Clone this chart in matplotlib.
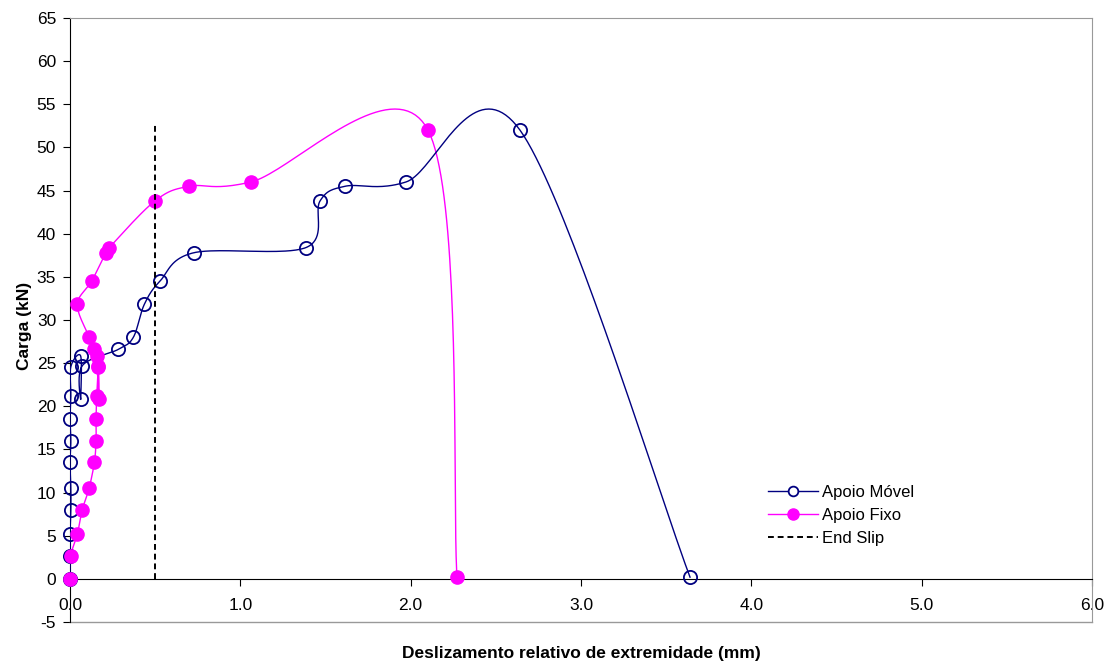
import numpy as np
import matplotlib
matplotlib.use("Agg")
import matplotlib.pyplot as plt
from matplotlib.lines import Line2D

plt.rcParams['font.family'] = ['Liberation Sans', 'DejaVu Sans']
plt.rcParams['axes.unicode_minus'] = False

# carga (kN), same load steps for both supports
carga = [0, 2.6, 5.2, 8.0, 10.5, 13.5, 16.0, 18.5, 21.2, 24.6, 25.8, 20.8, 24.7,
         26.6, 28.0, 31.8, 34.5, 37.8, 38.4, 43.8, 45.5, 46.0, 52.0, 0.2]

# deslizamento relativo (mm)
desl_movel = [0, 0, 0, 0.005, 0.005, 0, 0.005, 0, 0.005, 0.005, 0.063, 0.063, 0.072,
              0.284, 0.372, 0.436, 0.528, 0.728, 1.386, 1.468, 1.615, 1.973, 2.642, 3.64]
desl_fixo = [0, 0.003, 0.043, 0.072, 0.112, 0.143, 0.153, 0.153, 0.157, 0.166, 0.157, 0.170, 0.166,
             0.141, 0.113, 0.043, 0.127, 0.211, 0.231, 0.499, 0.699, 1.063, 2.102, 2.272]

end_slip_x = [0.5, 0.5]
end_slip_y = [0, 52.8]


"""Excel-like smoothed line (Catmull-Rom / bezier)"""
def smooth(x, y, n=40):
    p = np.column_stack([x, y]).astype(float)
    p = np.vstack([p[0], p, p[-1]])
    out = []
    for i in range(1, len(p) - 2):
        p0, p1, p2, p3 = p[i - 1], p[i], p[i + 1], p[i + 2]
        c1 = p1 + (p2 - p0) / 6
        c2 = p2 - (p3 - p1) / 6
        t = np.linspace(0, 1, n)[:, None]
        seg = (1 - t) ** 3 * p1 + 3 * (1 - t) ** 2 * t * c1 + 3 * (1 - t) * t ** 2 * c2 + t ** 3 * p2
        out.append(seg)
    out = np.vstack(out)
    return out[:, 0], out[:, 1]


fig = plt.figure(figsize=(11.09, 6.63), dpi=100)
ax = fig.add_axes([70 / 1109, 1 - 622 / 663, (1092 - 70) / 1109, (622 - 18) / 663])

navy = '#000080'
magenta = '#FF00FF'

sx, sy = smooth(desl_movel, carga)
ax.plot(sx, sy, color=navy, lw=1.0, zorder=3)
ax.plot(desl_movel, carga, ls='none', marker='o', ms=9.5, mfc='none', mec=navy, mew=1.3,
        zorder=4, clip_on=False)

sx, sy = smooth(desl_fixo, carga)
ax.plot(sx, sy, color=magenta, lw=1.0, zorder=2)
ax.plot(desl_fixo, carga, ls='none', marker='o', ms=9.5, mfc=magenta, mec=magenta,
        zorder=4.5, clip_on=False)

ax.plot(end_slip_x, end_slip_y, color='black', lw=1.4, ls=(0, (3, 2)), zorder=5)

ax.set_xlim(0, 6)
ax.set_ylim(-5, 65)
ax.set_xticks(np.arange(0, 6.01, 1.0))
ax.set_xticklabels([f'{v:.1f}' for v in np.arange(0, 6.01, 1.0)])
ax.set_yticks(np.arange(-5, 66, 5))

ax.spines['bottom'].set_position(('data', 0))
ax.spines['bottom'].set_color('black')
ax.spines['left'].set_color('black')
ax.spines['top'].set_color('#999999')
ax.spines['right'].set_color('#999999')
ax.axhline(-5, color='#999999', lw=1.0, clip_on=False)

ax.tick_params(axis='y', direction='out', length=5, labelsize=12.5, pad=5)
ax.tick_params(axis='x', direction='out', length=5, labelsize=12.5, pad=9)

ax.set_ylabel('Carga (kN)', fontsize=12.5, fontweight='bold')
ax.yaxis.set_label_coords(-0.037, 0.49)
ax.text(0.5, -(658 - 622) / 604, 'Deslizamento relativo de extremidade (mm)', transform=ax.transAxes,
        ha='center', va='baseline', fontsize=12.5, fontweight='bold')

handles = [
    Line2D([], [], color=navy, lw=1.0, marker='o', ms=7, mfc='white', mec=navy, mew=1.3),
    Line2D([], [], color=magenta, lw=1.0, marker='o', ms=8, mfc=magenta, mec=magenta),
    Line2D([], [], color='black', lw=1.4, ls=(0, (3, 2))),
]
ax.legend(handles, ['Apoio Móvel', 'Apoio Fixo', 'End Slip'], loc='center left',
          bbox_to_anchor=(0.683, 0.177), frameon=False, fontsize=12, handlelength=3.0,
          handletextpad=0.25, labelspacing=0.48, borderpad=0, borderaxespad=0)

fig.savefig('out.png', dpi=100)
